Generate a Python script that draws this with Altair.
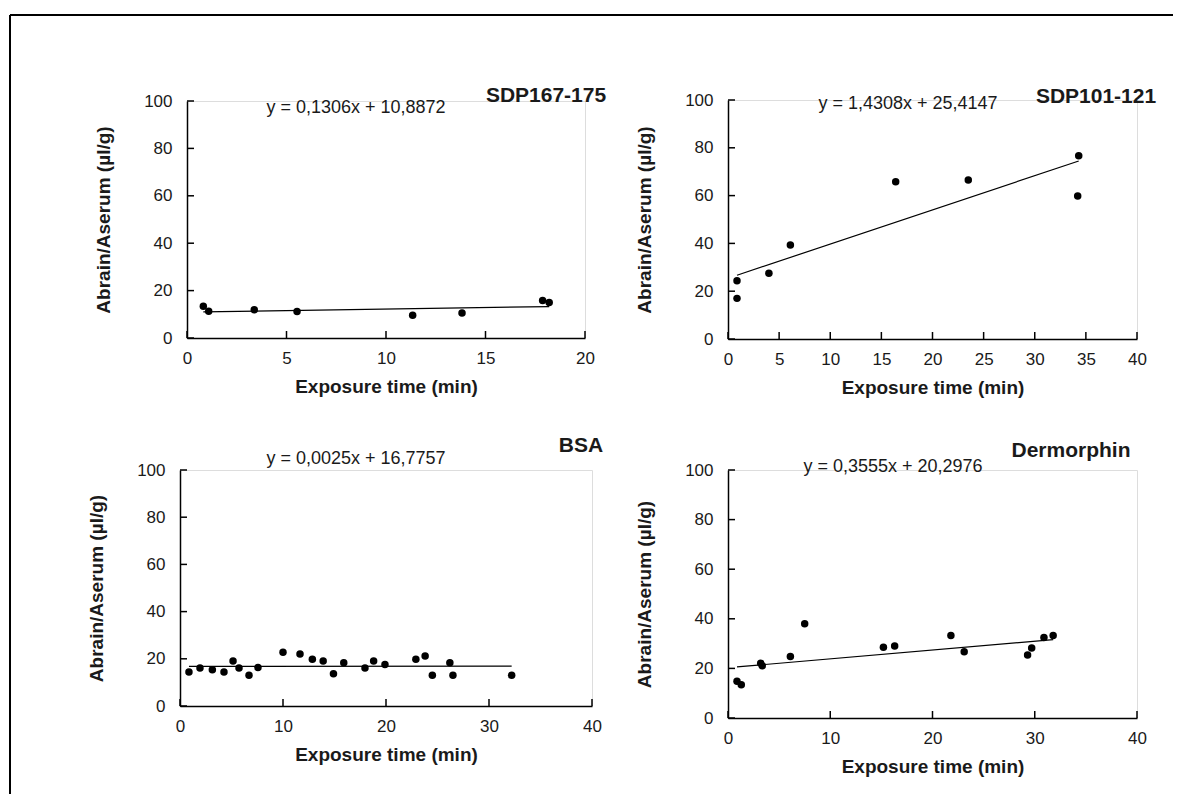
import altair as alt
import pandas as pd

FONT = "Liberation Sans"
TXT = "#1a1a1a"

# ---------------- data ----------------
titles = ["SDP167-175", "SDP101-121", "BSA", "Dermorphin"]
equations = ["y = 0,1306x + 10,8872", "y = 1,4308x + 25,4147",
             "y = 0,0025x + 16,7757", "y = 0,3555x + 20,2976"]
slopes = [0.1306, 1.4308, 0.0025, 0.3555]
intercepts = [10.8872, 25.4147, 16.7757, 20.2976]

sdp167_x = [0.82, 1.09, 3.38, 5.53, 11.34, 13.82, 17.87, 18.2]
sdp167_y = [13.4, 11.3, 11.9, 11.2, 9.6, 10.5, 15.8, 15.0]

sdp101_x = [0.88, 0.88, 4.0, 6.1, 16.4, 23.5, 34.2, 34.3]
sdp101_y = [24.4, 17.0, 27.5, 39.3, 65.8, 66.5, 59.8, 76.7]

bsa_x = [0.87, 1.94, 3.14, 4.27, 5.15, 5.73, 6.7, 7.57, 10.0, 11.65, 12.85, 13.9,
         14.9, 15.9, 17.96, 18.8, 19.9, 22.9, 23.8, 24.5, 26.2, 26.5, 32.2]
bsa_y = [14.4, 16.1, 15.4, 14.4, 19.1, 16.1, 13.0, 16.3, 22.8, 22.0, 19.8, 19.1,
         13.7, 18.3, 16.1, 19.1, 17.6, 19.8, 21.2, 13.0, 18.3, 13.0, 13.0]

derm_x = [0.88, 1.3, 3.2, 3.35, 6.1, 7.5, 15.2, 16.3, 21.8, 23.1, 29.3, 29.7, 30.9, 31.8]
derm_y = [14.8, 13.4, 22.1, 21.1, 24.8, 38.0, 28.5, 29.0, 33.3, 26.7, 25.4, 28.2, 32.5, 33.3]

x_max = [20, 40, 40, 40]
x_tick_values = [[0, 5, 10, 15, 20],
                 [0, 5, 10, 15, 20, 25, 30, 35, 40],
                 [0, 10, 20, 30, 40],
                 [0, 10, 20, 30, 40]]
y_tick_values = [0, 20, 40, 60, 80, 100]

xs_all = [sdp167_x, sdp101_x, bsa_x, derm_x]
ys_all = [sdp167_y, sdp101_y, bsa_y, derm_y]

# ---------------- layout (pixels) ----------------
sizes = [(398, 237), (409, 239), (412, 236), (409, 248)]
eq_pos = [(169, 7), (180, 4), (176, -11), (165, -3)]
title_pos = [(359, -5), (368, -3), (401, -24), (343, -19)]
TICK = 7


def panel(i, frame=False):
    w, h = sizes[i]
    xs, ys = xs_all[i], ys_all[i]
    df = pd.DataFrame({"x": xs, "y": ys})
    xscale = alt.Scale(domain=[0, x_max[i]], nice=False, zero=True)
    yscale = alt.Scale(domain=[0, 100], nice=False, zero=True)

    xaxis = alt.Axis(values=x_tick_values[i], ticks=False, tickSize=0, grid=False,
                     domainColor="black", domainWidth=1.5, labelFontSize=17,
                     labelPadding=12, labelColor=TXT, labelFont=FONT,
                     title="Exposure time (min)", titleFontSize=19,
                     titleFontWeight="bold", titlePadding=11, titleColor=TXT,
                     titleFont=FONT, labelFlush=False)
    yaxis = alt.Axis(values=y_tick_values, ticks=False, tickSize=0, grid=False,
                     domainColor="black", domainWidth=1.5, labelFontSize=17,
                     labelPadding=15, labelColor=TXT, labelFont=FONT,
                     title="Abrain/Aserum (µl/g)", titleFontSize=19,
                     titleFontWeight="bold", titlePadding=30, titleColor=TXT,
                     titleFont=FONT, labelFlush=False)

    X = lambda: alt.X("x:Q", scale=xscale, axis=xaxis)
    Y = lambda: alt.Y("y:Q", scale=yscale, axis=yaxis)

    pts = alt.Chart(df).mark_circle(size=56, color="black", opacity=1).encode(x=X(), y=Y())

    lo, hi = min(xs), max(xs)
    line_df = pd.DataFrame({"x": [lo, hi],
                            "y": [slopes[i] * lo + intercepts[i], slopes[i] * hi + intercepts[i]]})
    trend = alt.Chart(line_df).mark_line(color="black", strokeWidth=1.2).encode(x=X(), y=Y())

    yt = alt.Chart(pd.DataFrame({"y": y_tick_values})).mark_rule(
        color="black", strokeWidth=1.5).encode(
        y=Y(), x=alt.value(0), x2=alt.value(TICK),
    )
    xt = alt.Chart(pd.DataFrame({"x": x_tick_values[i]})).mark_rule(
        color="black", strokeWidth=1.5).encode(
        x=X(), y=alt.value(h), y2=alt.value(h - TICK),
    )

    one = pd.DataFrame({"k": [0]})
    eq = alt.Chart(one).mark_text(text=equations[i], font=FONT, fontSize=18,
                                  color=TXT, align="center", baseline="middle").encode(
        x=alt.value(eq_pos[i][0]), y=alt.value(eq_pos[i][1]))
    tt = alt.Chart(one).mark_text(text=titles[i], font=FONT, fontSize=21,
                                  fontWeight="bold", color=TXT, align="center",
                                  baseline="middle").encode(
        x=alt.value(title_pos[i][0]), y=alt.value(title_pos[i][1]))

    layers = [pts, trend, xt, yt, eq, tt]
    if frame:
        fh = alt.Chart(one).mark_rule(color="black", strokeWidth=2).encode(
            x=alt.value(-177), x2=alt.value(986), y=alt.value(-86))
        fv = alt.Chart(one).mark_rule(color="black", strokeWidth=2).encode(
            x=alt.value(-177), y=alt.value(-86), y2=alt.value(693))
        layers += [fh, fv]
    return alt.layer(*layers).properties(width=w, height=h)


chart = alt.concat(
    panel(0, frame=True), panel(1), panel(2), panel(3),
    columns=2, spacing={"row": 131, "column": 136},
    center=True, bounds="flush", align="each",
).properties(
    padding={"left": 0, "top": 5, "right": 0, "bottom": 0}
).configure_view(strokeWidth=0, stroke="transparent").configure(background="white")

chart.save("out.html", embed_options={"renderer": "svg", "actions": False})
